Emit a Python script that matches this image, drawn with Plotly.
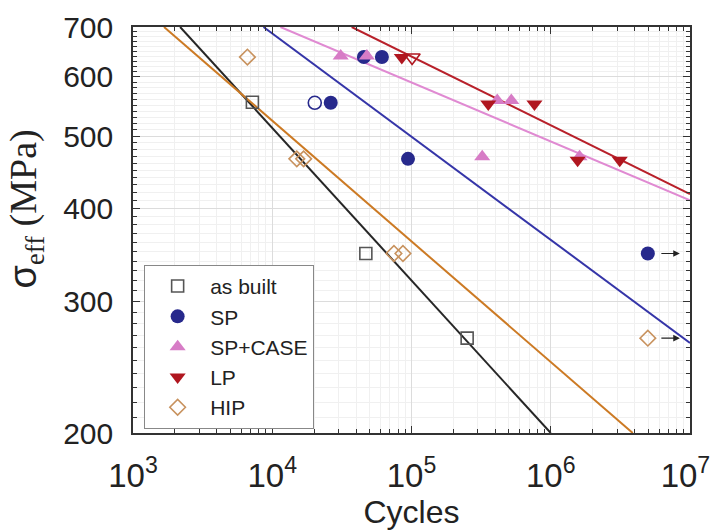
import plotly.graph_objects as go
import numpy as np

# ---------------- data ----------------
asbuilt_n = [7200, 47000, 251000]
asbuilt_s = [555, 348, 268]

sp_n = [26300, 45500, 61300, 94400, 4.98e6]
sp_s = [554, 638, 638, 466, 348]
sp_open_n = [20200]
sp_open_s = [554]

spc_n = [31000, 47800, 413000, 521000, 322000, 1.61e6]
spc_s = [640, 640, 558, 558, 469, 469]

lp_n = [85200, 356000, 764000, 1.56e6, 3.13e6]
lp_s = [637, 552, 552, 464, 464]
lp_open_n = [101000]
lp_open_s = [637]

hip_n = [6630, 15000, 16800, 74800, 86800, 4.98e6]
hip_s = [638, 466, 466, 348, 348, 268]

# fit lines (end points N, sigma)
fit_asbuilt_n = [2180, 1.0e6]
fit_asbuilt_s = [700, 200]
fit_hip_n = [1670, 3.88e6]
fit_hip_s = [700, 200]
fit_sp_n = [8650, 1.0e7]
fit_sp_s = [700, 264]
fit_spc_n = [11450, 1.0e7]
fit_spc_s = [700, 410]
fit_lp_n = [37200, 1.0e7]
fit_lp_s = [700, 418]

# run-outs (arrows)
runout_n = [4.98e6, 4.98e6]
runout_s = [348, 268]

y_ticks = [200, 300, 400, 500, 600, 700]
x_ticks = [1e3, 1e4, 1e5, 1e6, 1e7]
x_ticktext = ["10<sup>3</sup>", "10<sup>4</sup>", "10<sup>5</sup>", "10<sup>6</sup>",
              "10<sup>7</sup>\u00a0"]

# ---------------- styles ----------------
C_AB = "#555555"
C_AB_LINE = "#262626"
C_SP = "#27298c"
C_SP_LINE = "#3535a8"
C_SPC = "#d77cc6"
C_SPC_LINE = "#e08ad2"
C_LP = "#b0161f"
C_LP_LINE = "#b8202a"
C_HIP = "#c8925e"
C_HIP_LINE = "#cc7a24"

FONT = "Liberation Sans"

fig = go.Figure()

# fit lines
for n, s, c in [(fit_asbuilt_n, fit_asbuilt_s, C_AB_LINE),
                (fit_hip_n, fit_hip_s, C_HIP_LINE),
                (fit_sp_n, fit_sp_s, C_SP_LINE),
                (fit_spc_n, fit_spc_s, C_SPC_LINE),
                (fit_lp_n, fit_lp_s, C_LP_LINE)]:
    fig.add_trace(go.Scatter(x=n, y=s, mode="lines", line=dict(color=c, width=2),
                             showlegend=False, hoverinfo="skip"))

# markers
fig.add_trace(go.Scatter(x=asbuilt_n, y=asbuilt_s, mode="markers", name="as built",
                         marker=dict(symbol="square-open", size=12, color=C_AB,
                                     line=dict(width=1.6, color=C_AB))))
fig.add_trace(go.Scatter(x=sp_n, y=sp_s, mode="markers", name="SP", legendgroup="sp",
                         marker=dict(symbol="circle", size=14, color=C_SP)))
fig.add_trace(go.Scatter(x=spc_n, y=spc_s, mode="markers", name="SP+CASE",
                         marker=dict(symbol="triangle-up", size=14, color=C_SPC)))
fig.add_trace(go.Scatter(x=lp_n, y=lp_s, mode="markers", name="LP", legendgroup="lp",
                         marker=dict(symbol="triangle-down", size=14, color=C_LP)))
fig.add_trace(go.Scatter(x=hip_n, y=hip_s, mode="markers", name="HIP",
                         marker=dict(symbol="diamond-open", size=12, color=C_HIP,
                                     line=dict(width=1.6, color=C_HIP))))
fig.add_trace(go.Scatter(x=sp_open_n, y=sp_open_s, mode="markers", legendgroup="sp",
                         showlegend=False,
                         marker=dict(symbol="circle-open", size=13, color=C_SP,
                                     line=dict(width=1.6, color=C_SP))))
fig.add_trace(go.Scatter(x=lp_open_n, y=lp_open_s, mode="markers", legendgroup="lp",
                         showlegend=False,
                         marker=dict(symbol="triangle-down-open", size=14, color=C_LP,
                                     line=dict(width=1.6, color=C_LP))))

# run-out arrows
for n, s in zip(runout_n, runout_s):
    fig.add_annotation(x=np.log10(n) + 0.23, y=np.log10(s), ax=-20, ay=0,
                       xref="x", yref="y", axref="pixel", ayref="pixel",
                       showarrow=True, arrowhead=2, arrowsize=1.1, arrowwidth=1.2,
                       arrowcolor="#222222", text="")

# y-axis title (as annotation so it can sit slightly above the axis centre)
fig.add_annotation(
    text='<span style="font-family:Liberation Sans">σ</span><sub>eff</sub> (MPa)',
    font=dict(family="Liberation Serif", size=38, color="#222222"),
    xref="paper", yref="paper", x=-0.193, y=0.552, xanchor="center", yanchor="middle",
    textangle=-90, showarrow=False)

minor_y = [v for v in range(210, 700, 10) if v not in y_ticks]
minor_x = [k * 10 ** e for e in range(3, 7) for k in range(2, 10)]

axis_common = dict(showline=True, linecolor="#333333", linewidth=1.5, mirror="ticks",
                   ticks="inside", tickcolor="#333333", tickwidth=1.3, ticklen=7,
                   showgrid=True, gridcolor="#dcdcdc", gridwidth=1, zeroline=False)

fig.update_xaxes(type="log", range=[2.9999, 7.0001], tickvals=x_ticks, ticktext=x_ticktext,
                 tickfont=dict(family=FONT, size=33, color="#222222"),
                 ticklabelstandoff=13, ticklabeloverflow="allow",
                 title=dict(text="Cycles", font=dict(family=FONT, size=32, color="#222222"),
                            standoff=0),
                 minor=dict(tickvals=minor_x, ticks="inside", ticklen=4, tickcolor="#333333",
                            showgrid=True, gridcolor="#f0f0f0", gridwidth=1),
                 **axis_common)
fig.update_yaxes(type="log", range=[np.log10(200), np.log10(700)], tickvals=y_ticks,
                 ticktext=[str(v) for v in y_ticks],
                 tickfont=dict(family=FONT, size=30, color="#222222"),
                 ticklabelstandoff=12,
                 minor=dict(tickvals=minor_y, ticks="inside", ticklen=4, tickcolor="#333333",
                            showgrid=True, gridcolor="#f0f0f0", gridwidth=1),
                 **axis_common)

fig.update_layout(
    width=713, height=530,
    margin=dict(l=133, r=23, t=27, b=97, autoexpand=False),
    paper_bgcolor="white", plot_bgcolor="white",
    showlegend=True,
    legend=dict(x=0.02, y=0.414, xanchor="left", yanchor="top",
                bgcolor="white", bordercolor="#888888", borderwidth=1,
                font=dict(family=FONT, size=21, color="#222222"),
                tracegroupgap=0, itemsizing="trace", itemwidth=55),
)

# remove the browser's default 8px body margin so the figure fills the window
fig.write_html("out.html", config={"displayModeBar": False},
               post_script="document.body.style.margin='0';")
